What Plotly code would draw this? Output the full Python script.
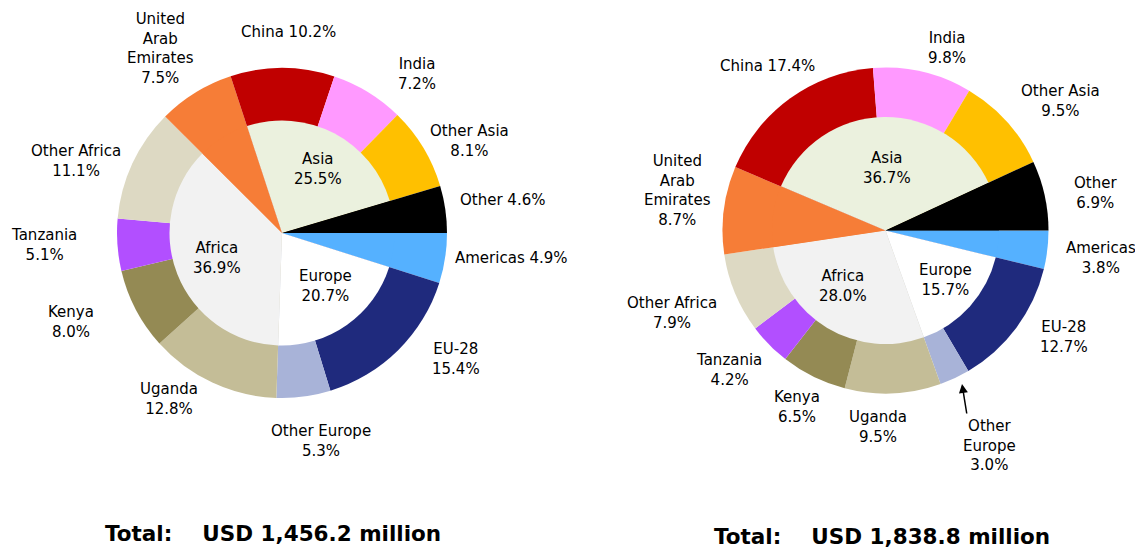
import plotly.graph_objects as go

# ---------------- data ----------------
segments = ["Americas", "EU-28", "Other Europe", "Uganda", "Kenya", "Tanzania",
            "Other Africa", "United Arab Emirates", "China", "India", "Other Asia", "Other"]
segment_region = ["Americas", "Europe", "Europe", "Africa", "Africa", "Africa",
                  "Africa", "United Arab Emirates", "Asia", "Asia", "Asia", "Other"]
share_left = [4.9, 15.4, 5.3, 12.8, 8.0, 5.1, 11.1, 7.5, 10.2, 7.2, 8.1, 4.6]
share_right = [3.8, 12.7, 3.0, 9.5, 6.5, 4.2, 7.9, 8.7, 17.4, 9.8, 9.5, 6.9]

regions = ["Americas", "Europe", "Africa", "United Arab Emirates", "Asia", "Other"]
region_labelled = ["Asia", "Africa", "Europe"]
region_share_left = [25.5, 36.9, 20.7]
region_share_right = [36.7, 28.0, 15.7]

totals = [1456.2, 1838.8]

# ---------------- styles ----------------
W, H = 1135, 548
FONT = "DejaVu Sans"
seg_colors = ["#55B1FF", "#1F2A7D", "#A8B3D8", "#C4BD97", "#948A54", "#B24FFF",
              "#DDD9C3", "#F67D37", "#C00000", "#FF99FF", "#FFC000", "#000000"]
reg_colors = {"Americas": "#55B1FF", "Europe": "#FFFFFF", "Africa": "#F2F2F2",
              "United Arab Emirates": "#F67D37", "Asia": "#EBF1DE", "Other": "#000000"}

# label display formats (name, separator) and positions in pixels (x, y from top)
disp_left = {"Americas": ("Americas", " "), "EU-28": ("EU-28", "<br>"),
             "Other Europe": ("Other Europe", "<br>"), "Uganda": ("Uganda", "<br>"),
             "Kenya": ("Kenya", "<br>"), "Tanzania": ("Tanzania", "<br>"),
             "Other Africa": ("Other Africa", "<br>"),
             "United Arab Emirates": ("United<br>Arab<br>Emirates", "<br>"),
             "China": ("China", " "), "India": ("India", "<br>"),
             "Other Asia": ("Other Asia", "<br>"), "Other": ("Other", " ")}
pos_left = {"Americas": (511, 258), "EU-28": (456, 359), "Other Europe": (321, 441),
            "Uganda": (169, 399), "Kenya": (71, 322), "Tanzania": (44, 245),
            "Other Africa": (76, 161), "United Arab Emirates": (160, 48),
            "China": (288, 32), "India": (417, 74), "Other Asia": (469, 141),
            "Other": (502, 200)}
disp_right = dict(disp_left)
disp_right.update({"Americas": ("Americas", "<br>"), "Other": ("Other", "<br>"),
                   "Other Europe": ("Other<br>Europe", "<br>")})
pos_right = {"Americas": (1101, 258), "EU-28": (1064, 337), "Other Europe": (989, 445),
             "Uganda": (878, 427), "Kenya": (797, 407), "Tanzania": (729, 370),
             "Other Africa": (672, 313), "United Arab Emirates": (677, 190),
             "China": (767, 66), "India": (947, 48), "Other Asia": (1060, 101),
             "Other": (1095, 193)}
reg_pos_left = {"Asia": (318, 169), "Africa": (217, 258), "Europe": (325, 286)}
reg_pos_right = {"Asia": (887, 168), "Africa": (843, 286), "Europe": (945, 280)}

charts = [
    dict(share=share_left, reg_share=region_share_left, cx=282, cy=233, r=165, ri=112.5,
         disp=disp_left, pos=pos_left, reg_pos=reg_pos_left, total_pos=(273, 533)),
    dict(share=share_right, reg_share=region_share_right, cx=885.5, cy=230.5, r=163, ri=113.5,
         disp=disp_right, pos=pos_right, reg_pos=reg_pos_right, total_pos=(882, 536)),
]


def px(x, y):
    return x / W, 1 - y / H


fig = go.Figure()
annotations = []
for ch, total in zip(charts, totals):
    cx, cy, r, ri = ch["cx"], ch["cy"], ch["r"], ch["ri"]
    # outer full pie
    fig.add_trace(go.Pie(
        labels=segments, values=ch["share"], sort=False, direction="clockwise",
        rotation=90, textinfo="none", hoverinfo="label+value",
        marker=dict(colors=seg_colors, line=dict(width=0)),
        domain=dict(x=[(cx - r) / W, (cx + r) / W], y=[1 - (cy + r) / H, 1 - (cy - r) / H]),
        showlegend=False))
    # inner pie: region sums of the segments
    reg_vals = [sum(v for v, g in zip(ch["share"], segment_region) if g == reg) for reg in regions]
    fig.add_trace(go.Pie(
        labels=regions, values=reg_vals, sort=False, direction="clockwise",
        rotation=90, textinfo="none", hoverinfo="label",
        marker=dict(colors=[reg_colors[g] for g in regions], line=dict(width=0)),
        domain=dict(x=[(cx - ri) / W, (cx + ri) / W], y=[1 - (cy + ri) / H, 1 - (cy - ri) / H]),
        showlegend=False))
    # segment labels
    for name, val in zip(segments, ch["share"]):
        dname, sep = ch["disp"][name]
        x, y = px(*ch["pos"][name])
        annotations.append(dict(x=x, y=y, xref="paper", yref="paper", showarrow=False,
                                text=f"{dname}{sep}{val:.1f}%", align="center",
                                font=dict(family=FONT, size=15, color="#000000"),
                                xanchor="center", yanchor="middle"))
    for name, val in zip(region_labelled, ch["reg_share"]):
        x, y = px(*ch["reg_pos"][name])
        annotations.append(dict(x=x, y=y, xref="paper", yref="paper", showarrow=False,
                                text=f"{name}<br>{val:.1f}%", align="center",
                                font=dict(family=FONT, size=15, color="#000000"),
                                xanchor="center", yanchor="middle"))
    tx, ty = px(*ch["total_pos"])
    gap = "\u00a0" * 4
    annotations.append(dict(x=tx, y=ty, xref="paper", yref="paper", showarrow=False,
                            text=f"Total:{gap}USD {total:,.1f} million",
                            font=dict(family=FONT, size=21.5, color="#000000", weight="bold"),
                            xanchor="center", yanchor="middle"))

# arrow to Other Europe (right chart)
hx, hy = px(962, 384)
annotations.append(dict(x=hx, y=hy, xref="paper", yref="paper", showarrow=True,
                        text="", ax=5, ay=31, arrowhead=2, arrowsize=1.2, arrowwidth=1.5,
                        arrowcolor="#000000", standoff=0, startstandoff=0))

fig.update_layout(width=W, height=H, margin=dict(l=0, r=0, t=0, b=0),
                  paper_bgcolor="#FFFFFF", plot_bgcolor="#FFFFFF",
                  annotations=annotations, showlegend=False)

fig.write_html("out.html", config={"displayModeBar": False},
               post_script="document.body.style.margin='0';")
